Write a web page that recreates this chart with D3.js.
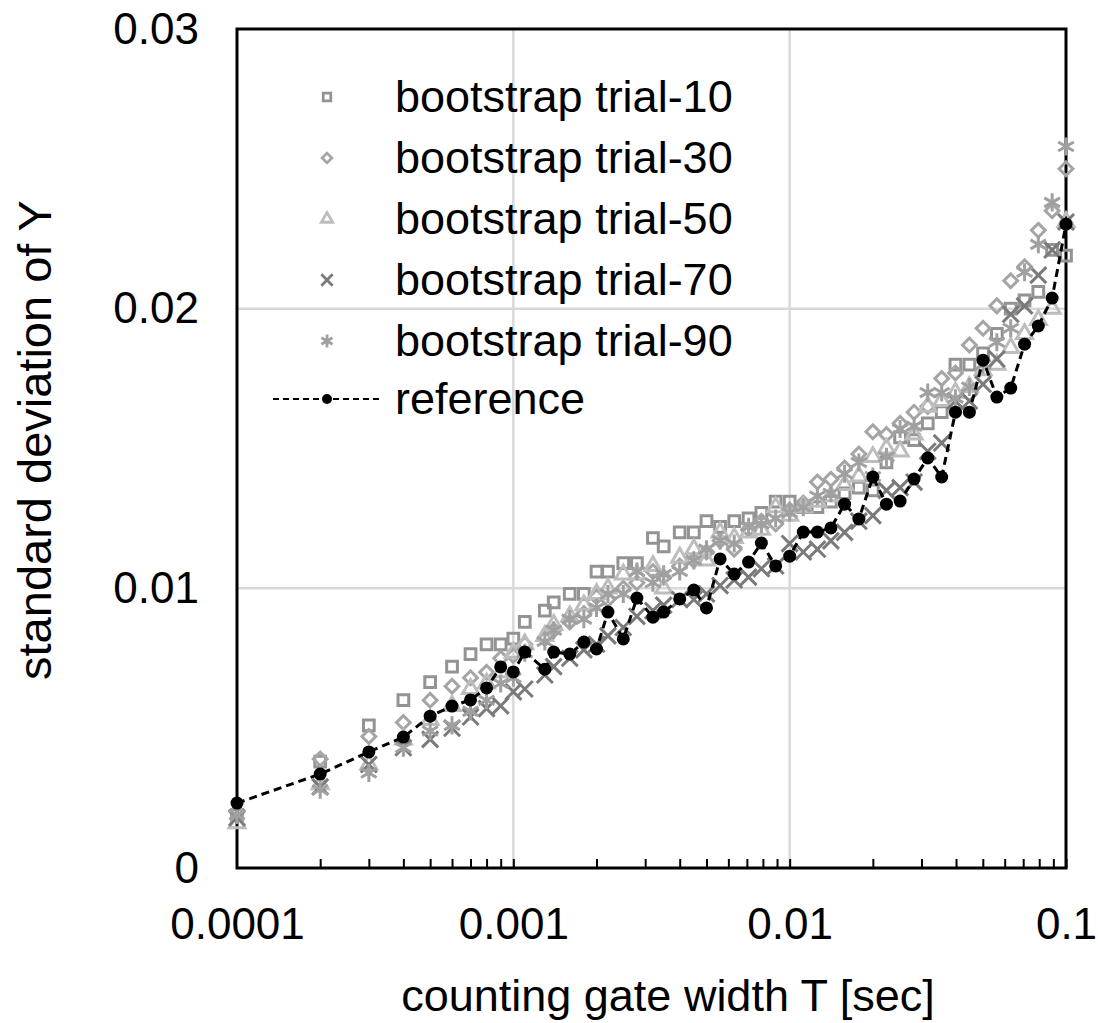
<!DOCTYPE html>
<html>
<head>
<meta charset="utf-8">
<script src="https://cdn.jsdelivr.net/npm/d3@7"></script>
<style>
  body { margin: 0; background: #fff; }
  text { font-family: "Liberation Sans", Arial, sans-serif; }
</style>
</head>
<body>
<div id="chart"></div>
<script>
// gate width T [sec]
const gateWidth = [
  0.0001, 0.0002, 0.0003, 0.0004, 0.0005, 0.0006, 0.0007, 0.0008, 0.0009, 0.001,
  0.0011, 0.0013, 0.0014, 0.0016, 0.0018, 0.002, 0.0022, 0.0025, 0.0028, 0.0032,
  0.0035, 0.004, 0.0045, 0.005, 0.0056, 0.0063, 0.0071, 0.0079, 0.0089, 0.01,
  0.0112, 0.0126, 0.0141, 0.0158, 0.0178, 0.02, 0.0224, 0.0251, 0.0282, 0.0316,
  0.0355, 0.0398, 0.0447, 0.0501, 0.0562, 0.0631, 0.0708, 0.0794, 0.0891, 0.1
];

const trial10 = [
  0.0019, 0.0038, 0.0051, 0.0060, 0.00665, 0.0072, 0.00765, 0.0080, 0.0080, 0.0082,
  0.0088, 0.0092, 0.0095, 0.0098, 0.0098, 0.0106, 0.0106, 0.0109, 0.0109, 0.0118,
  0.0115, 0.0120, 0.0120, 0.0124, 0.0122, 0.0124, 0.0125, 0.0127, 0.0131, 0.0131,
  0.0129, 0.0129, 0.0131, 0.0134, 0.0136, 0.0135, 0.0145, 0.0154, 0.0153, 0.0159,
  0.0163, 0.0180, 0.0180, 0.0184, 0.0191, 0.0200, 0.0203, 0.0206, 0.0221, 0.0219
];
const trial30 = [
  0.0020, 0.0039, 0.0047, 0.0052, 0.0060, 0.0065, 0.0068, 0.0070, 0.0075, 0.0076,
  0.0080, 0.0082, 0.0085, 0.0088, 0.0091, 0.0097, 0.0096, 0.0100, 0.0102, 0.0106,
  0.0104, 0.0108, 0.0110, 0.0113, 0.0117, 0.0114, 0.0121, 0.0124, 0.0123, 0.0128,
  0.01305, 0.0138, 0.0139, 0.0143, 0.0148, 0.0156, 0.0155, 0.0159, 0.0163, 0.0165,
  0.0175, 0.0177, 0.0187, 0.0193, 0.0201, 0.0210, 0.0215, 0.0228, 0.0235, 0.0250
];
const trial50 = [
  0.0016, 0.0030, 0.0037, 0.0046, 0.0053, 0.0058, 0.0064, 0.0066, 0.0070, 0.0077,
  0.0080, 0.0083, 0.0087, 0.0090, 0.0094, 0.0098, 0.0100, 0.0105, 0.0105, 0.0108,
  0.0100, 0.0111, 0.0114, 0.0110, 0.0120, 0.0118, 0.0120, 0.0121, 0.0129, 0.0126,
  0.0129, 0.0131, 0.0133, 0.0137, 0.0140, 0.0147, 0.0150, 0.0149, 0.0155, 0.0165,
  0.0167, 0.0170, 0.0172, 0.0178, 0.0180, 0.0186, 0.0191, 0.0196, 0.0200, 0.0231
];
const trial70 = [
  0.0018, 0.0029, 0.0037, 0.0043, 0.0046, 0.0050, 0.0054, 0.0057, 0.0058, 0.0063,
  0.0064, 0.0069, 0.0072, 0.0075, 0.0078, 0.0080, 0.0083, 0.0086, 0.0090, 0.0092,
  0.0094, 0.0096, 0.0096, 0.0098, 0.0101, 0.0103, 0.0104, 0.0107, 0.0108, 0.0116,
  0.0113, 0.0114, 0.0117, 0.0120, 0.0124, 0.0126, 0.0135, 0.0136, 0.0138, 0.0149,
  0.0152, 0.0167, 0.0167, 0.0173, 0.0182, 0.0198, 0.0201, 0.0212, 0.0221, 0.0231
];
const trial90 = [
  0.0019, 0.0028, 0.0034, 0.0043, 0.0049, 0.0051, 0.0056, 0.0060, 0.0066, 0.0068,
  0.0077, 0.0081, 0.0085, 0.0089, 0.0089, 0.0093, 0.0098, 0.0098, 0.0106, 0.0102,
  0.0105, 0.0106, 0.0110, 0.0114, 0.0117, 0.0116, 0.0122, 0.0123, 0.0125, 0.0127,
  0.0129, 0.0133, 0.0134, 0.0141, 0.0145, 0.0140, 0.0147, 0.0157, 0.0158, 0.0170,
  0.0170, 0.0168, 0.0172, 0.0180, 0.0188, 0.0193, 0.0213, 0.0223, 0.0238, 0.0258
];
const reference = [
  0.00232, 0.00336, 0.00415, 0.00468, 0.00543, 0.00579, 0.00601, 0.00644, 0.00719, 0.00701,
  0.00772, 0.00711, 0.00772, 0.00765, 0.00808, 0.00783, 0.00915, 0.00819, 0.00965, 0.00897,
  0.00915, 0.00962, 0.00994, 0.00930, 0.01105, 0.01051, 0.01094, 0.01162, 0.01080, 0.01115,
  0.01201, 0.01201, 0.01216, 0.01301, 0.01248, 0.01398, 0.01301, 0.01312, 0.01391, 0.01466,
  0.01398, 0.01630, 0.01630, 0.01816, 0.01684, 0.01716, 0.01873, 0.01938, 0.02038, 0.02302
];

const seriesNames = ["bootstrap trial-10", "bootstrap trial-30", "bootstrap trial-50",
                     "bootstrap trial-70", "bootstrap trial-90"];
const xTickValues = [0.0001, 0.001, 0.01, 0.1];
const xTickLabels = ["0.0001", "0.001", "0.01", "0.1"];
const yTickValues = [0, 0.01, 0.02, 0.03];
const yTickLabels = ["0", "0.01", "0.02", "0.03"];

const W = 1098, H = 1023;
const plotLeft = 237, plotRight = 1066, plotTop = 29, plotBottom = 868;

const svg = d3.select("#chart").append("svg")
  .attr("width", W).attr("height", H);

const x = d3.scaleLog().domain([0.0001, 0.1]).range([plotLeft, plotRight]);
const y = d3.scaleLinear().domain([0, 0.03]).range([plotBottom, plotTop]);

// grid lines
svg.append("g").selectAll("line")
  .data([0.001, 0.01]).enter().append("line")
  .attr("x1", d => x(d)).attr("x2", d => x(d))
  .attr("y1", plotTop).attr("y2", plotBottom)
  .attr("stroke", "#d9d9d9").attr("stroke-width", 2.5);
svg.append("g").selectAll("line")
  .data([0.01, 0.02]).enter().append("line")
  .attr("x1", plotLeft).attr("x2", plotRight)
  .attr("y1", d => y(d)).attr("y2", d => y(d))
  .attr("stroke", "#d9d9d9").attr("stroke-width", 2.5);

// minor ticks (inside, pointing up)
const minor = [];
[0.0001, 0.001, 0.01].forEach(b => { for (let k = 2; k <= 10; k++) minor.push(b * k); });
svg.append("g")
  .attr("transform", `translate(0,${plotBottom})`)
  .call(d3.axisBottom(x).tickValues(minor).tickSize(-9).tickFormat(""))
  .call(g => g.select(".domain").remove())
  .call(g => g.selectAll("line").attr("stroke", "#000").attr("stroke-width", 2));

// x tick labels
svg.append("g")
  .attr("transform", `translate(0,${plotBottom})`)
  .call(d3.axisBottom(x).tickValues(xTickValues).tickSize(0).tickPadding(40)
    .tickFormat((d, i) => xTickLabels[i]))
  .call(g => g.select(".domain").remove())
  .call(g => g.selectAll("text").attr("font-size", "44px").attr("fill", "#000")
    .attr("font-family", "Liberation Sans, Arial, sans-serif"));

// y tick labels
svg.append("g")
  .attr("transform", `translate(${plotLeft},0)`)
  .call(d3.axisLeft(y).tickValues(yTickValues).tickSize(0).tickPadding(38)
    .tickFormat((d, i) => yTickLabels[i]))
  .call(g => g.select(".domain").remove())
  .call(g => g.selectAll("text").attr("font-size", "44px").attr("fill", "#000")
    .attr("font-family", "Liberation Sans, Arial, sans-serif"));

// frame
svg.append("rect")
  .attr("x", plotLeft).attr("y", plotTop)
  .attr("width", plotRight - plotLeft).attr("height", plotBottom - plotTop)
  .attr("fill", "none").attr("stroke", "#000").attr("stroke-width", 3);

// marker styles
const styles = [
  { type: d3.symbolSquare, size: 115, rot: 0, color: "#939393" },
  { type: d3.symbolSquare, size: 95, rot: 45, color: "#a5a5a5" },
  { type: d3.symbolTriangle, size: 110, rot: 0, color: "#bdbdbd" },
  { type: d3.symbolTimes, size: 170, rot: 0, color: "#7a7a7a" },
  { type: d3.symbolAsterisk, size: 230, rot: 0, color: "#a0a0a0" }
];
const trials = [trial10, trial30, trial50, trial70, trial90];

trials.forEach((vals, s) => {
  const st = styles[s];
  svg.append("g").selectAll("path")
    .data(vals.map((v, i) => ({ t: gateWidth[i], v })))
    .enter().append("path")
    .attr("d", d3.symbol().type(st.type).size(st.size))
    .attr("transform", d => `translate(${x(d.t)},${y(d.v)}) rotate(${st.rot})`)
    .attr("fill", "none")
    .attr("stroke", st.color)
    .attr("stroke-width", 3);
});

// reference line
const refData = reference.map((v, i) => ({ t: gateWidth[i], v }));
svg.append("path")
  .datum(refData)
  .attr("d", d3.line().x(d => x(d.t)).y(d => y(d.v)))
  .attr("fill", "none").attr("stroke", "#000")
  .attr("stroke-width", 3).attr("stroke-dasharray", "8,5");
svg.append("g").selectAll("circle")
  .data(refData).enter().append("circle")
  .attr("cx", d => x(d.t)).attr("cy", d => y(d.v))
  .attr("r", 6.5).attr("fill", "#000");

// legend
const legend = svg.append("g");
const rowY = [97, 158, 219, 280, 341, 399];
seriesNames.forEach((name, i) => {
  const st = styles[i];
  legend.append("path")
    .attr("d", d3.symbol().type(st.type).size(st.size * 0.5)())
    .attr("transform", `translate(327,${rowY[i]}) rotate(${st.rot})`)
    .attr("fill", "none").attr("stroke", st.color).attr("stroke-width", 2.8);
  legend.append("text")
    .attr("x", 395).attr("y", rowY[i] + 15)
    .attr("font-size", "45px").attr("fill", "#000")
    .text(name);
});
legend.append("line")
  .attr("x1", 273).attr("x2", 381)
  .attr("y1", rowY[5]).attr("y2", rowY[5])
  .attr("stroke", "#000").attr("stroke-width", 2.2).attr("stroke-dasharray", "6,4");
legend.append("circle").attr("cx", 327).attr("cy", rowY[5]).attr("r", 5).attr("fill", "#000");
legend.append("text")
  .attr("x", 395).attr("y", rowY[5] + 15)
  .attr("font-size", "45px").attr("fill", "#000")
  .text("reference");

// axis titles
svg.append("text")
  .attr("x", 668).attr("y", 1011)
  .attr("text-anchor", "middle").attr("font-size", "45px").attr("fill", "#000")
  .text("counting gate width T [sec]");
svg.append("text")
  .attr("transform", "translate(51,440) rotate(-90)")
  .attr("text-anchor", "middle").attr("font-size", "47px").attr("fill", "#000")
  .text("standard deviation of Y");
</script>
</body>
</html>
